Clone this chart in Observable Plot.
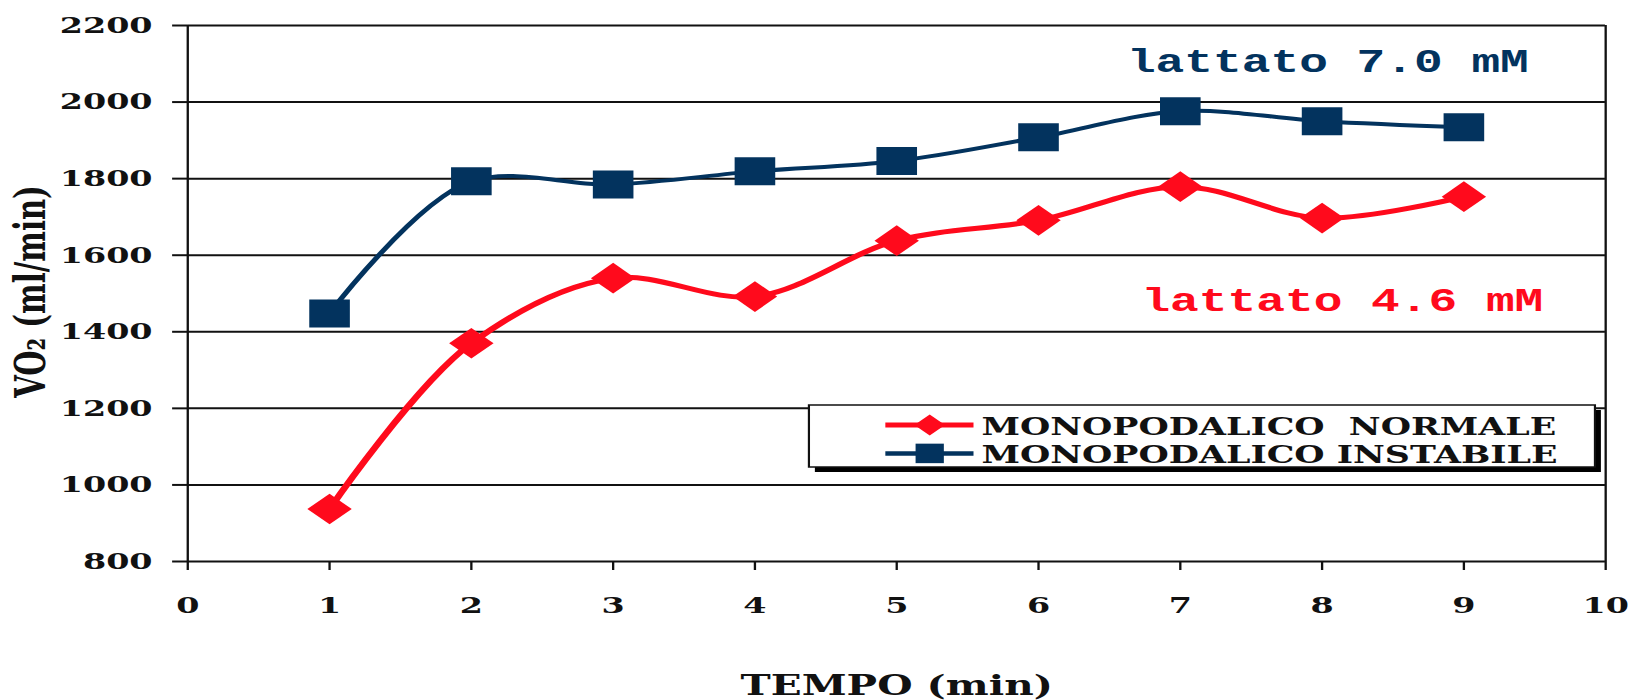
<!DOCTYPE html>
<html>
<head>
<meta charset="utf-8">
<script src="https://cdn.jsdelivr.net/npm/d3@7"></script>
<script src="https://cdn.jsdelivr.net/npm/@observablehq/plot@0.6"></script>
<style>
  html, body { margin: 0; padding: 0; background: #fff; }
  #chart svg { display: block; }
</style>
</head>
<body>
<div id="chart"></div>
<script>
// VO2 over time in single-leg stance, stable vs unstable support
const minutes = [1, 2, 3, 4, 5, 6, 7, 8, 9];
const vo2Normale = [937, 1370, 1540, 1492, 1638, 1691, 1779, 1697, 1753];
const vo2Instabile = [1448, 1793, 1785, 1819, 1846, 1908, 1976, 1950, 1934];
const seriesNames = ["MONOPODALICO  NORMALE", "MONOPODALICO INSTABILE"];
const lactateLabels = ["lattato 4.6 mM", "lattato 7.0 mM"];
const xTicks = [0, 1, 2, 3, 4, 5, 6, 7, 8, 9, 10];
const yTicks = [800, 1000, 1200, 1400, 1600, 1800, 2000, 2200];
const xTitle = "TEMPO (min)";
const yTitle = "VO₂ (ml/min)";

const RED = "#ff0a1c";
const NAVY = "#03335e";
const INK = "#111";
const SERIF = "'DejaVu Serif', 'Liberation Serif', serif";
const MONO = "'Liberation Mono', 'Courier New', monospace";

// The figure is laid out in a narrower frame and then widened to the page,
// giving the broad, horizontally stretched look of the original spreadsheet chart.
const PAGE_W = 1637, PAGE_H = 700;
const STRETCH = 1.45;
const W = Math.round(PAGE_W / STRETCH);

const normaleRows = minutes.map((m, i) => ({minute: m, vo2: vo2Normale[i]}));
const instabileRows = minutes.map((m, i) => ({minute: m, vo2: vo2Instabile[i]}));

const chart = Plot.plot({
  width: W,
  height: PAGE_H,
  marginLeft: 129,
  marginRight: 22.1,
  marginTop: 25,
  marginBottom: 139,
  x: {domain: [0, 10]},
  y: {domain: [800, 2200]},
  style: {fontFamily: SERIF, color: INK, background: "#fff", overflow: "visible"},
  marks: [
    Plot.ruleY(yTicks, {stroke: INK, strokeWidth: 2}),
    Plot.ruleX([0, 10], {stroke: INK, strokeWidth: 1.6}),
    Plot.axisY({ticks: yTicks, tickSize: 10.3, tickPadding: 14, fontSize: 23, fontWeight: "bold",
                strokeWidth: 2, label: null, tickFormat: d => String(d)}),
    Plot.axisX({ticks: xTicks, tickSize: 9, tickPadding: 26, fontSize: 23, fontWeight: "bold",
                strokeWidth: 1.6, label: null, tickFormat: d => String(d)}),
    Plot.line(normaleRows, {x: "minute", y: "vo2", stroke: RED, strokeWidth: 5, curve: "catmull-rom"}),
    Plot.line(instabileRows, {x: "minute", y: "vo2", stroke: NAVY, strokeWidth: 4, curve: "catmull-rom"}),
    Plot.dot(normaleRows, {x: "minute", y: "vo2", symbol: "diamond2", r: 13.8, fill: RED}),
    Plot.dot(instabileRows, {x: "minute", y: "vo2", symbol: "square", r: 15.8, fill: NAVY}),
    Plot.text([yTitle], {frameAnchor: "left", textAnchor: "middle", lineAnchor: "middle", rotate: -90,
                         dx: -107.6, dy: -2, fontSize: 29, fontWeight: "bold", fill: INK}),
    Plot.text([xTitle], {frameAnchor: "bottom", dy: 133, fontSize: 28, fontWeight: "bold", fill: INK}),
    Plot.text([lactateLabels[1]], {frameAnchor: "top-right", textAnchor: "end", lineAnchor: "top",
                                   dx: -53, dy: 22.6,
                                   fontFamily: MONO, fontSize: 33, fontWeight: "bold", fill: NAVY}),
    Plot.text([lactateLabels[0]], {frameAnchor: "top-right", textAnchor: "end", lineAnchor: "top",
                                   dx: -43, dy: 261.6,
                                   fontFamily: MONO, fontSize: 33, fontWeight: "bold", fill: RED})
  ]
});

// Legend box with drop shadow, drawn in the same frame as the plot
const legendItems = [
  {name: seriesNames[0], color: RED, symbol: d3.symbolDiamond2, r: 9.5, width: 5},
  {name: seriesNames[1], color: NAVY, symbol: d3.symbolSquare, r: 11, width: 4.5}
];
const box = {x: 557.9, y: 405, w: 542.1, h: 62};
const lg = d3.select(chart).append("g").attr("class", "legend");
lg.append("rect").attr("x", box.x + 4.1).attr("y", box.y + 5)
  .attr("width", box.w).attr("height", box.h).attr("fill", "#000");
lg.append("rect").attr("x", box.x).attr("y", box.y)
  .attr("width", box.w).attr("height", box.h)
  .attr("fill", "#fff").attr("stroke", INK).attr("stroke-width", 1.5);
legendItems.forEach((item, i) => {
  const cy = 425 + i * 28.4;
  lg.append("line").attr("x1", 610.6).attr("x2", 671.4).attr("y1", cy).attr("y2", cy)
    .attr("stroke", item.color).attr("stroke-width", item.width);
  lg.append("path")
    .attr("d", d3.symbol(item.symbol, Math.PI * item.r * item.r)())
    .attr("transform", `translate(641.2,${cy})`)
    .attr("fill", item.color);
  lg.append("text").attr("x", 676.9).attr("y", 435 + i * 28.3)
    .attr("text-anchor", "start")
    .attr("font-family", SERIF).attr("font-size", 24).attr("font-weight", "bold")
    .attr("fill", INK).style("white-space", "pre")
    .text(item.name);
});

chart.setAttribute("width", PAGE_W);
chart.setAttribute("height", PAGE_H);
chart.setAttribute("preserveAspectRatio", "none");
chart.style.maxWidth = "none";
chart.style.width = PAGE_W + "px";
chart.style.height = PAGE_H + "px";
document.getElementById("chart").appendChild(chart);
</script>
</body>
</html>
